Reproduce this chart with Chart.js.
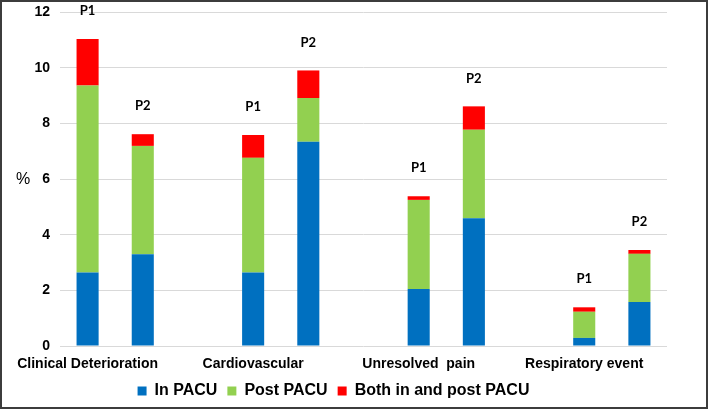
<!DOCTYPE html>
<html>
<head>
<meta charset="utf-8">
<script src="https://cdn.jsdelivr.net/npm/chart.js@4/dist/chart.umd.min.js"></script>
<style>
html,body{margin:0;padding:0;background:#fff;}
#wrap{position:relative;width:708px;height:409px;}
</style>
</head>
<body>
<div id="wrap"><canvas id="c"></canvas></div>
<script>
// Categories: each outcome has P1, P2 and an empty spacer slot
const categoryLabels = ["Clinical Deterioration", "", "", "Cardiovascular", "", "", "Unresolved  pain", "", "", "Respiratory event", ""];
const periodLabels   = ["P1", "P2", "", "P1", "P2", "", "P1", "P2", "", "P1", "P2"];
const inPACU   = [2.64, 3.30, null, 2.64, 7.34, null, 2.05, 4.59, null, 0.29, 1.58];
const postPACU = [6.72, 3.89, null, 4.12, 1.57, null, 3.20, 3.18, null, 0.94, 1.73];
const bothPACU = [1.67, 0.42, null, 0.82, 0.99, null, 0.13, 0.84, null, 0.16, 0.14];
const seriesNames = ["In PACU", "Post PACU", "Both in and post PACU"];
const yTicks = [0, 2, 4, 6, 8, 10, 12];

const FONT = "'Liberation Sans', Arial, sans-serif";

const extras = {
  id: 'extras',
  afterDatasetsDraw(chart) {
    const ctx = chart.ctx;
    const top = chart.getDatasetMeta(2).data;
    ctx.save();
    ctx.fillStyle = '#000';
    ctx.font = "bold 13px Lato, 'Open Sans', sans-serif";
    ctx.textAlign = 'center';
    ctx.textBaseline = 'middle';
    periodLabels.forEach((t, i) => {
      if (!t || !top[i]) return;
      ctx.fillText(t, top[i].x, top[i].y - 28);
    });
    // horizontal "%" axis title
    const a = chart.chartArea;
    ctx.font = "16px " + FONT;
    ctx.fillText('%', 23, (a.top + a.bottom) / 2 + 1);
    ctx.restore();
  },
  afterDraw(chart) {
    const ctx = chart.ctx;
    ctx.save();
    ctx.strokeStyle = '#3c3c3c';
    ctx.lineWidth = 2;
    ctx.strokeRect(1, 1, chart.width - 2, chart.height - 2);
    ctx.restore();
  }
};

new Chart(document.getElementById('c'), {
  type: 'bar',
  data: {
    labels: categoryLabels,
    datasets: [
      { label: seriesNames[0], data: inPACU,   backgroundColor: '#0070C0' },
      { label: seriesNames[1], data: postPACU, backgroundColor: '#92D050' },
      { label: seriesNames[2], data: bothPACU, backgroundColor: '#FF0000' }
    ]
  },
  options: {
    responsive: true,
    maintainAspectRatio: false,
    animation: false,
    datasets: { bar: { categoryPercentage: 1.0, barPercentage: 0.4 } },
    layout: { padding: { left: 0, right: 41, top: 12, bottom: 0 } },
    plugins: {
      tooltip: { enabled: false },
      legend: {
        position: 'bottom',
        labels: {
          color: '#000',
          font: { family: FONT, size: 16, weight: 'bold' },
          boxWidth: 9, boxHeight: 9, padding: 10
        }
      }
    },
    scales: {
      x: {
        stacked: true,
        grid: { display: false, drawTicks: false },
        border: { display: false },
        afterFit(scale) { scale.height = 27; },
        ticks: {
          color: '#000', autoSkip: false, maxRotation: 0, minRotation: 0, padding: 10,
          font: { family: FONT, size: 14, weight: 'bold' }
        }
      },
      y: {
        stacked: true,
        min: 0, max: 12,
        afterBuildTicks(scale) { scale.ticks = yTicks.map(v => ({ value: v })); },
        afterFit(scale) { scale.width = 60; scale.paddingTop = 0; },
        grid: { color: '#d9d9d9', drawTicks: false },
        border: { display: false },
        ticks: {
          color: '#000', padding: 10,
          font: { family: FONT, size: 14, weight: 'bold' }
        }
      }
    }
  },
  plugins: [extras]
});
</script>
</body>
</html>
